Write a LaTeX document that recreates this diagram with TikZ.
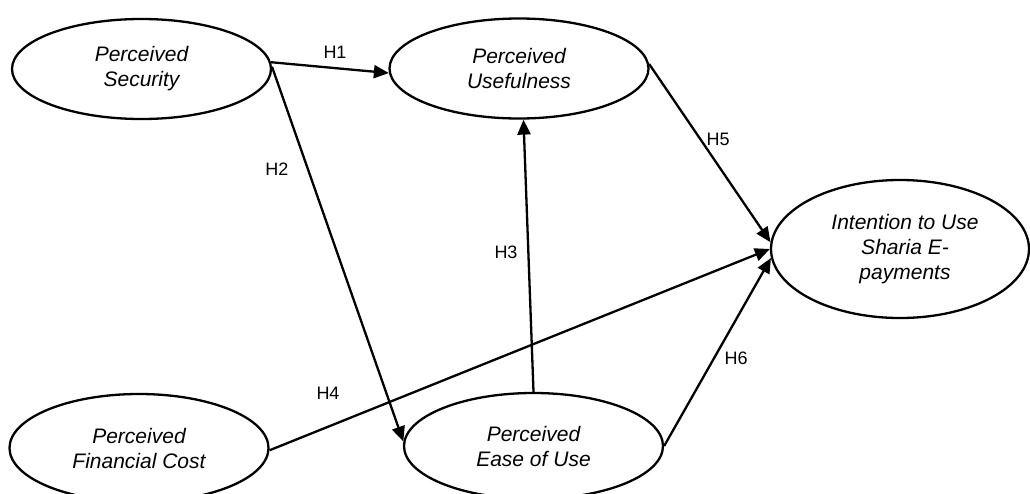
\documentclass[tikz,border=0pt]{standalone}
\usepackage{fontspec}
\setmainfont{Liberation Sans}
\usetikzlibrary{shapes.geometric,arrows.meta}
\tikzset{
  construct/.style={draw=black, line width=2.3pt, ellipse, inner sep=0pt,
    minimum width=259pt, align=center,
    font=\fontsize{21}{25}\selectfont\itshape},
  path/.style={draw=black, line width=2.3pt, -{Triangle[length=15pt,width=13pt]}},
  hyp/.style={font=\fontsize{18}{20}\selectfont, inner sep=0pt},
}
\begin{document}
\begin{tikzpicture}[x=1pt,y=-1pt]
\useasboundingbox (0,0) rectangle (1030,493);
\node[construct, minimum height=100pt] (sec) at (141.5,69) {Perceived\\Security};
\node[construct, minimum height=100pt] (use) at (519,68.5) {Perceived\\Usefulness};
\node[construct, minimum height=138pt, minimum width=258pt] (int) at (900,249) {\hspace*{10pt}Intention to Use\\\hspace*{10pt}Sharia E-\\\hspace*{10pt}payments};
\node[construct, minimum height=108pt] (fin) at (139,448) {Perceived\\Financial Cost};
\node[construct, minimum height=106pt] (ease) at (533.5,446) {Perceived\\Ease of Use};

\draw[path] (sec.3) -- (use.182);
\draw[path] (sec.1) -- (ease.178);
\draw[path] (ease.north) -- (use.275);
\draw[path] (fin.359) -- (int.180);
\draw[path] (use.2.5) -- (int.177);
\draw[path] (ease.east) -- (int.184);

\node[hyp] (h1) at (335,52) {H1};
\node[hyp] (h2) at (277,169) {H2};
\node[hyp] (h3) at (506,252) {H3};
\node[hyp] (h4) at (328,393) {H4};
\node[hyp] (h5) at (718,139) {H5};
\node[hyp] (h6) at (736,358) {H6};
\end{tikzpicture}
\end{document}
